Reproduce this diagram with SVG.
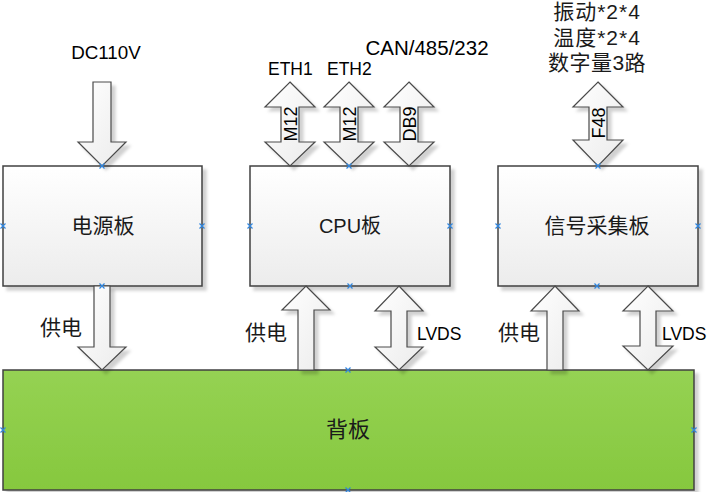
<svg xmlns="http://www.w3.org/2000/svg" width="709" height="492" viewBox="0 0 709 492">
<defs>
<linearGradient id="boxFill" x1="0" y1="0" x2="0" y2="1">
<stop offset="0" stop-color="#ffffff"/>
<stop offset="1" stop-color="#ececec"/>
</linearGradient>
<linearGradient id="greenFill" x1="0" y1="0" x2="0" y2="1">
<stop offset="0" stop-color="#95d253"/>
<stop offset="1" stop-color="#86c83e"/>
</linearGradient>
<linearGradient id="arrowFill" x1="0" y1="0" x2="1" y2="1">
<stop offset="0" stop-color="#ffffff"/>
<stop offset="1" stop-color="#ebebeb"/>
</linearGradient>
<filter id="shadow" x="-10%" y="-10%" width="130%" height="130%">
<feDropShadow dx="4" dy="4" stdDeviation="1.5" flood-color="#000000" flood-opacity="0.18"/>
</filter>
</defs>
<style>
.box{fill:url(#boxFill);stroke:#404040;stroke-width:1.5;filter:url(#shadow)}
.green{fill:url(#greenFill);stroke:#404040;stroke-width:1.5;filter:url(#shadow)}
.arrow{fill:url(#arrowFill);stroke:#4a4a4a;stroke-width:1.2;stroke-linejoin:miter;filter:url(#shadow)}
.lat{font-family:"Liberation Sans","Noto Sans CJK SC",sans-serif;font-size:17.5px;fill:#000}
.cjk{font-family:"Noto Sans CJK SC","Liberation Sans",sans-serif;font-size:21px;fill:#1a1a1a}
.mix{font-family:"Liberation Sans","Noto Sans CJK SC",sans-serif;font-size:21px;fill:#1a1a1a}
.rot{font-family:"Liberation Sans",sans-serif;font-size:18px;fill:#000}
.mk{stroke:#2f86e0;stroke-width:1.2;fill:none}
</style>
<rect width="709" height="492" fill="#ffffff"/>

<g id="power-board">
<rect class="box" x="3" y="166" width="199" height="120"/>
<text class="cjk" x="103" y="233" text-anchor="middle">电源板</text>
</g>
<g id="cpu-board">
<rect class="box" x="250" y="166" width="200" height="120"/>
<text class="mix" x="350" y="233" text-anchor="middle" style="font-size:20px">CPU板</text>
</g>
<g id="signal-board">
<rect class="box" x="498" y="166" width="200" height="120"/>
<text class="cjk" x="597" y="233" text-anchor="middle">信号采集板</text>
</g>
<g id="backplane">
<rect class="green" x="3" y="370" width="691" height="120"/>
<text class="cjk" x="348" y="437" text-anchor="middle" style="font-size:22px">背板</text>
</g>

<g id="connectors">
<path class="arrow" d="M93,82 H111 V142 H126 L102,166 L78,142 H93 Z"/>
<path class="arrow" d="M94,286 H110 V347 H126 L102,370 L78,347 H94 Z"/>
<path class="arrow" d="M306,286 L330,310 H314 V370 H298 V310 H282 Z"/>
<path class="arrow" d="M399,286 L423,311 H407 V347 H423 L399,370 L375,347 H391 V311 H375 Z"/>
<path class="arrow" d="M555,286 L579,311 H563 V370 H547 V311 H531 Z"/>
<path class="arrow" d="M648,286 L673,311 H656 V346 H673 L648,370 L623,346 H640 V311 H623 Z"/>
<path class="arrow" d="M290,82 L315,107 H299 V142 H315 L290,166 L265,142 H281 V107 H265 Z"/>
<path class="arrow" d="M349,82 L374,107 H358 V142 H374 L349,166 L324,142 H340 V107 H324 Z"/>
<path class="arrow" d="M409,82 L434,107 H418 V142 H434 L409,166 L384,142 H400 V107 H384 Z"/>
<path class="arrow" d="M598,82 L623,107 H607 V140 H623 L598,166 L573,140 H589 V107 H573 Z"/>

<text class="rot" transform="translate(296.5,124) rotate(-90)" text-anchor="middle">M12</text>
<text class="rot" transform="translate(355.5,124) rotate(-90)" text-anchor="middle">M12</text>
<text class="rot" transform="translate(416,124) rotate(-90)" text-anchor="middle">DB9</text>
<text class="rot" transform="translate(605,123) rotate(-90)" text-anchor="middle">F48</text>

<text class="lat" x="106" y="59" text-anchor="middle" style="font-size:18.8px">DC110V</text>
<text class="lat" x="268" y="75">ETH1</text>
<text class="lat" x="327" y="75">ETH2</text>
<text class="lat" x="427" y="55" text-anchor="middle" style="font-size:20.5px">CAN/485/232</text>
<text class="mix" x="597" y="19" text-anchor="middle" letter-spacing="1">振动*2*4</text>
<text class="mix" x="597" y="45" text-anchor="middle" letter-spacing="1">温度*2*4</text>
<text class="mix" x="597" y="70" text-anchor="middle" letter-spacing="0.5">数字量3路</text>

<text class="cjk" x="61" y="335" text-anchor="middle">供电</text>
<text class="cjk" x="266" y="340" text-anchor="middle">供电</text>
<text class="cjk" x="519" y="340" text-anchor="middle">供电</text>
<text class="lat" x="417" y="340">LVDS</text>
<text class="lat" x="662" y="340">LVDS</text>
</g>

<g id="markers">
<path class="mk" d="M99.5,163.5l5,5m0,-5l-5,5 M0.5,223.5l5,5m0,-5l-5,5 M199.5,223.5l5,5m0,-5l-5,5 M99.5,283.5l5,5m0,-5l-5,5"/>
<path class="mk" d="M346.5,163.5l5,5m0,-5l-5,5 M247.5,223.5l5,5m0,-5l-5,5 M447.5,223.5l5,5m0,-5l-5,5 M347.5,283.5l5,5m0,-5l-5,5"/>
<path class="mk" d="M595.5,163.5l5,5m0,-5l-5,5 M495.5,223.5l5,5m0,-5l-5,5 M695.5,223.5l5,5m0,-5l-5,5 M594.5,283.5l5,5m0,-5l-5,5"/>
<path class="mk" d="M345.5,367.5l5,5m0,-5l-5,5 M0.5,427.5l5,5m0,-5l-5,5 M691.5,427.5l5,5m0,-5l-5,5 M345.5,487.5l5,5m0,-5l-5,5"/>
</g>
</svg>
